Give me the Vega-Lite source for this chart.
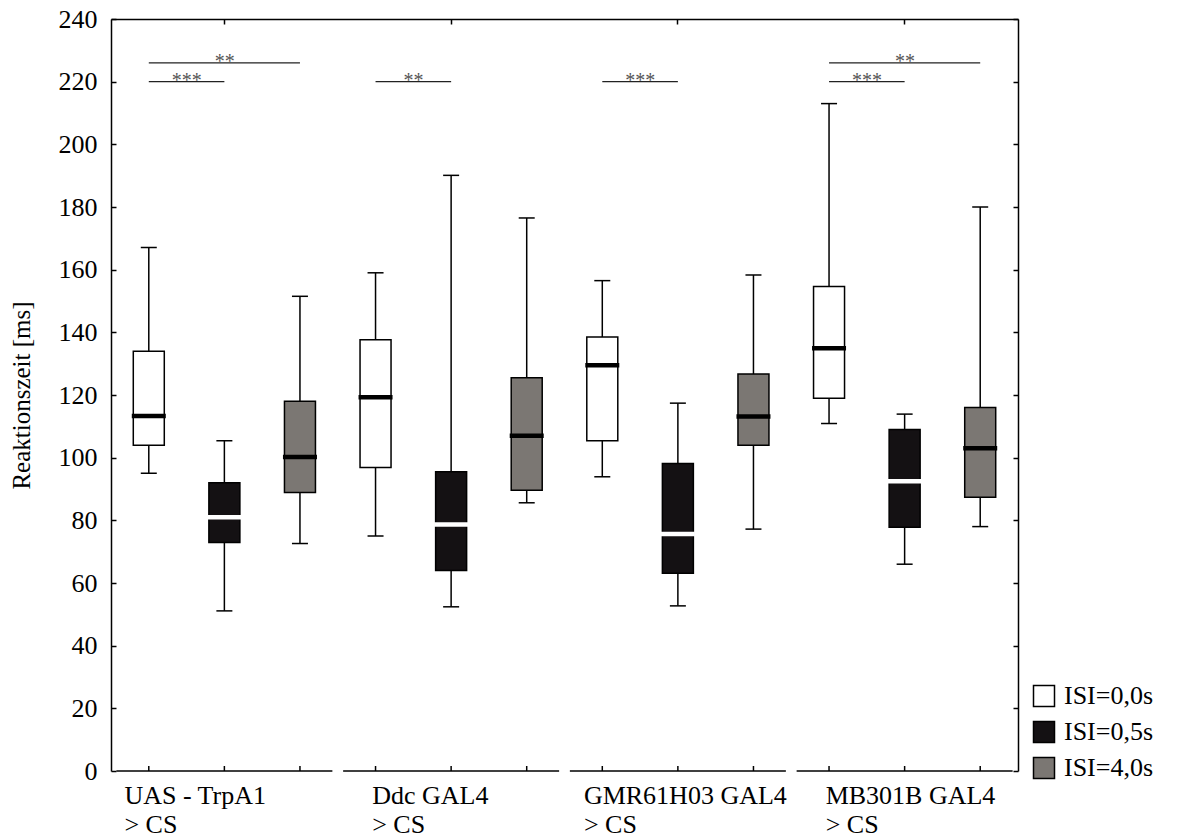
{
  "$schema": "https://vega.github.io/schema/vega-lite/v6.json",
  "width": 907,
  "height": 752,
  "autosize": "none",
  "padding": {"left": 111, "top": 19, "right": 170, "bottom": 68},
  "background": "white",
  "config": {
    "view": {"stroke": null},
    "font": "Liberation Serif",
    "tick": {"opacity": 1},
    "axis": {
      "labelFont": "Liberation Serif",
      "titleFont": "Liberation Serif",
      "labelColor": "black",
      "titleColor": "black",
      "domainColor": "black",
      "tickColor": "black",
      "domainWidth": 1.5,
      "tickWidth": 1.5,
      "grid": false
    }
  },
  "datasets": {
    "boxes": [
      {"group": "UAS - TrpA1\n> CS", "isi": "ISI=0,0s", "lower": 95.0, "q1": 104.0, "median": 113.3, "q3": 134.0, "upper": 167.1},
      {"group": "UAS - TrpA1\n> CS", "isi": "ISI=0,5s", "lower": 51.1, "q1": 72.9, "median": 81.0, "q3": 92.0, "upper": 105.4},
      {"group": "UAS - TrpA1\n> CS", "isi": "ISI=4,0s", "lower": 72.6, "q1": 88.9, "median": 100.2, "q3": 118.0, "upper": 151.5},
      {"group": "Ddc GAL4\n> CS", "isi": "ISI=0,0s", "lower": 75.0, "q1": 96.9, "median": 119.3, "q3": 137.6, "upper": 159.0},
      {"group": "Ddc GAL4\n> CS", "isi": "ISI=0,5s", "lower": 52.4, "q1": 64.0, "median": 78.7, "q3": 95.5, "upper": 190.1},
      {"group": "Ddc GAL4\n> CS", "isi": "ISI=4,0s", "lower": 85.6, "q1": 89.6, "median": 107.0, "q3": 125.5, "upper": 176.5},
      {"group": "GMR61H03 GAL4\n> CS", "isi": "ISI=0,0s", "lower": 93.9, "q1": 105.4, "median": 129.5, "q3": 138.5, "upper": 156.5},
      {"group": "GMR61H03 GAL4\n> CS", "isi": "ISI=0,5s", "lower": 52.7, "q1": 63.1, "median": 75.6, "q3": 98.1, "upper": 117.4},
      {"group": "GMR61H03 GAL4\n> CS", "isi": "ISI=4,0s", "lower": 77.2, "q1": 104.0, "median": 113.1, "q3": 126.7, "upper": 158.3},
      {"group": "MB301B GAL4\n> CS", "isi": "ISI=0,0s", "lower": 110.9, "q1": 119.0, "median": 134.9, "q3": 154.6, "upper": 213.0},
      {"group": "MB301B GAL4\n> CS", "isi": "ISI=0,5s", "lower": 66.0, "q1": 77.8, "median": 92.5, "q3": 109.0, "upper": 113.9},
      {"group": "MB301B GAL4\n> CS", "isi": "ISI=4,0s", "lower": 78.0, "q1": 87.4, "median": 103.0, "q3": 116.0, "upper": 180.0}
    ],
    "sig": [
      {"group": "UAS - TrpA1\n> CS", "from": "ISI=0,0s", "to": "ISI=0,5s", "level": 220, "stars": "***"},
      {"group": "UAS - TrpA1\n> CS", "from": "ISI=0,0s", "to": "ISI=4,0s", "level": 226, "stars": "**"},
      {"group": "Ddc GAL4\n> CS", "from": "ISI=0,0s", "to": "ISI=0,5s", "level": 220, "stars": "**"},
      {"group": "GMR61H03 GAL4\n> CS", "from": "ISI=0,0s", "to": "ISI=0,5s", "level": 220, "stars": "***"},
      {"group": "MB301B GAL4\n> CS", "from": "ISI=0,0s", "to": "ISI=0,5s", "level": 220, "stars": "***"},
      {"group": "MB301B GAL4\n> CS", "from": "ISI=0,0s", "to": "ISI=4,0s", "level": 226, "stars": "**"}
    ]
  },
  "resolve": {"axis": {"x": "independent", "y": "independent"}},
  "layer": [
    {
      "data": {"name": "boxes"},
      "mark": {"type": "rule", "stroke": "black", "strokeWidth": 1.5},
      "encoding": {
        "x": {
          "field": "group", "type": "nominal", "sort": null,
          "scale": {"type": "band", "domain": ["UAS - TrpA1\n> CS", "Ddc GAL4\n> CS", "GMR61H03 GAL4\n> CS", "MB301B GAL4\n> CS"], "paddingInner": 0, "paddingOuter": 0},
          "axis": {"orient": "top", "labels": false, "title": null, "ticks": true, "tickSize": -5, "domain": true}
        },
        "xOffset": {
          "field": "isi", "type": "nominal", "sort": null,
          "scale": {"domain": ["ISI=0,0s", "ISI=0,5s", "ISI=4,0s"], "paddingInner": 0, "paddingOuter": 0}
        },
        "y": {
          "field": "lower", "type": "quantitative",
          "scale": {"domain": [0, 240], "nice": false},
          "axis": {
            "orient": "left",
            "title": "Reaktionszeit [ms]",
            "values": [0, 20, 40, 60, 80, 100, 120, 140, 160, 180, 200, 220, 240],
            "tickSize": -5,
            "labelPadding": 19,
            "labelFontSize": 26,
            "titleFontSize": 25,
            "titleFontWeight": "normal",
            "titlePadding": 24
          }
        },
        "y2": {"field": "upper"}
      }
    },
    {
      "data": {"name": "boxes"},
      "mark": {"type": "tick", "orient": "horizontal", "size": 16, "thickness": 1.5, "color": "black", "opacity": 1},
      "encoding": {
        "x": {
          "field": "group", "type": "nominal", "sort": null,
          "axis": {
            "orient": "bottom", "domain": false, "ticks": false, "title": null,
            "labelAngle": 0, "labelAlign": "left", "labelBaseline": "top",
            "labelOffset": {
              "condition": [
                {"test": "indexof(datum.value, 'UAS') === 0", "value": -100},
                {"test": "indexof(datum.value, 'GMR') === 0", "value": -94}
              ],
              "value": -79
            },
            "labelPadding": 11,
            "labelFontSize": 26, "labelLineHeight": 29, "labelLimit": 400,
            "labelOverlap": false, "labelBound": false,
            "labelExpr": "split(datum.label, '\\n')"
          }
        },
        "xOffset": {"field": "isi", "type": "nominal", "sort": null},
        "y": {
          "field": "upper", "type": "quantitative",
          "axis": {
            "orient": "right", "labels": false, "title": null,
            "values": [0, 20, 40, 60, 80, 100, 120, 140, 160, 180, 200, 220, 240],
            "tickSize": -5
          }
        }
      }
    },
    {
      "data": {"name": "boxes"},
      "mark": {"type": "tick", "orient": "horizontal", "size": 16, "thickness": 1.5, "color": "black", "opacity": 1},
      "encoding": {
        "x": {"field": "group", "type": "nominal", "sort": null, "axis": null},
        "xOffset": {"field": "isi", "type": "nominal", "sort": null},
        "y": {"field": "lower", "type": "quantitative", "axis": null}
      }
    },
    {
      "data": {"name": "boxes"},
      "mark": {"type": "bar", "width": 31, "stroke": "black", "strokeWidth": 1.5, "opacity": 1},
      "encoding": {
        "x": {"field": "group", "type": "nominal", "sort": null, "axis": null},
        "xOffset": {"field": "isi", "type": "nominal", "sort": null},
        "y": {"field": "q1", "type": "quantitative", "axis": null},
        "y2": {"field": "q3"},
        "fill": {
          "field": "isi", "type": "nominal",
          "scale": {"domain": ["ISI=0,0s", "ISI=0,5s", "ISI=4,0s"], "range": ["#ffffff", "#141113", "#7b7773"]},
          "legend": {
            "orient": "none", "legendX": 920, "legendY": 664,
            "title": null, "padding": 0,
            "labelFont": "Liberation Serif", "labelFontSize": 26, "labelColor": "black",
            "symbolType": "square", "symbolSize": 441, "symbolOpacity": 1,
            "symbolStrokeColor": "black", "symbolStrokeWidth": 1.5,
            "rowPadding": 8, "labelOffset": 7
          }
        }
      }
    },
    {
      "data": {"name": "boxes"},
      "mark": {"type": "tick", "orient": "horizontal", "size": 34, "thickness": 4.5, "opacity": 1},
      "encoding": {
        "x": {"field": "group", "type": "nominal", "sort": null, "axis": null},
        "xOffset": {"field": "isi", "type": "nominal", "sort": null},
        "y": {"field": "median", "type": "quantitative", "axis": null},
        "color": {
          "field": "isi", "type": "nominal",
          "scale": {"domain": ["ISI=0,0s", "ISI=0,5s", "ISI=4,0s"], "range": ["#000000", "#ffffff", "#000000"]},
          "legend": null
        }
      }
    },
    {
      "data": {"name": "boxes"},
      "transform": [{"filter": "datum.isi === 'ISI=0,5s'"}],
      "mark": {"type": "tick", "orient": "horizontal", "size": 216, "thickness": 1.5, "color": "black", "opacity": 1},
      "encoding": {
        "x": {"field": "group", "type": "nominal", "sort": null, "axis": null},
        "y": {"datum": 0, "type": "quantitative", "axis": null}
      }
    },
    {
      "data": {"name": "boxes"},
      "mark": {"type": "rule", "stroke": "black", "strokeWidth": 1.5, "y2Offset": -5},
      "encoding": {
        "x": {"field": "group", "type": "nominal", "sort": null, "axis": null},
        "xOffset": {"field": "isi", "type": "nominal", "sort": null},
        "y": {"datum": 0, "type": "quantitative", "axis": null},
        "y2": {"datum": 0}
      }
    },
    {
      "data": {"name": "sig"},
      "transform": [{"fold": ["from", "to"], "as": ["end", "isi"]}],
      "mark": {"type": "line", "stroke": "#222222", "strokeWidth": 1.3},
      "encoding": {
        "x": {"field": "group", "type": "nominal", "sort": null, "axis": null},
        "xOffset": {"field": "isi", "type": "nominal", "sort": null},
        "y": {"field": "level", "type": "quantitative", "axis": null},
        "detail": [{"field": "group"}, {"field": "level"}]
      }
    },
    {
      "data": {"name": "sig"},
      "transform": [{"filter": "datum.to === 'ISI=0,5s'"}],
      "mark": {"type": "text", "dx": 38, "dy": 5, "fontSize": 20, "font": "Liberation Serif", "color": "#555555", "align": "center", "baseline": "alphabetic"},
      "encoding": {
        "x": {"field": "group", "type": "nominal", "sort": null, "axis": null},
        "xOffset": {"field": "from", "type": "nominal", "sort": null},
        "y": {"field": "level", "type": "quantitative", "axis": null},
        "text": {"field": "stars"}
      }
    },
    {
      "data": {"name": "sig"},
      "transform": [{"filter": "datum.to === 'ISI=4,0s'"}],
      "mark": {"type": "text", "dx": 76, "dy": 5, "fontSize": 20, "font": "Liberation Serif", "color": "#555555", "align": "center", "baseline": "alphabetic"},
      "encoding": {
        "x": {"field": "group", "type": "nominal", "sort": null, "axis": null},
        "xOffset": {"field": "from", "type": "nominal", "sort": null},
        "y": {"field": "level", "type": "quantitative", "axis": null},
        "text": {"field": "stars"}
      }
    }
  ]
}
